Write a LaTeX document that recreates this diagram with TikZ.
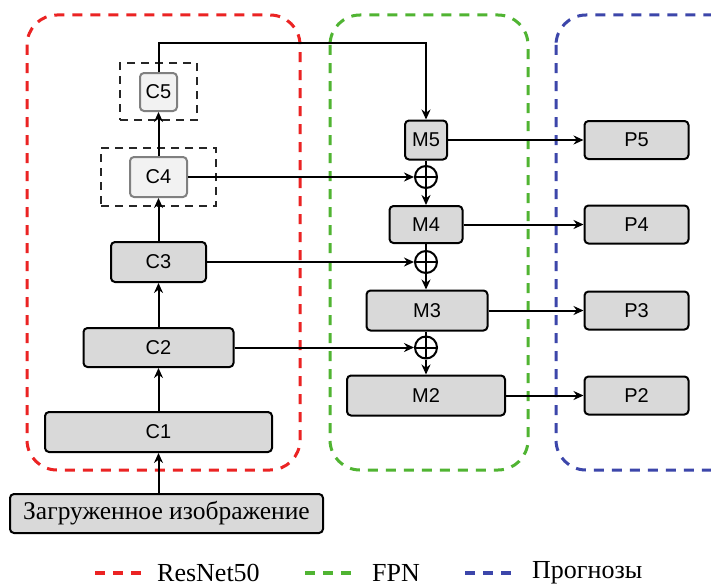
\documentclass[tikz,border=0pt]{standalone}
\usepackage{fontspec}
\setmainfont{Liberation Serif}
\newfontfamily\lsans{Liberation Sans}
\usetikzlibrary{arrows.meta,calc}
\definecolor{gfill}{RGB}{217,217,217}
\definecolor{lfill}{RGB}{242,242,242}
\definecolor{lborder}{RGB}{128,128,128}
\definecolor{myred}{RGB}{235,35,35}
\definecolor{mygreen}{RGB}{80,180,50}
\definecolor{myblue}{RGB}{60,70,170}
\begin{document}
\begin{tikzpicture}[x=1pt,y=-1pt,
 box/.style={draw=black, line width=2pt, fill=gfill, rounded corners=4pt, inner sep=0pt, font=\lsans\fontsize{20}{20}\selectfont},
 lbox/.style={box, draw=lborder, fill=lfill},
 cframe/.style={draw=black!85, line width=2.2pt, dash pattern=on 8pt off 6pt, inner sep=0pt},
 grp/.style={line width=3pt, dash pattern=on 10pt off 8pt, rounded corners=30pt},
 arr/.style={line width=2pt, -{Stealth[length=10pt,width=9pt]}},
 ln/.style={line width=2pt},
 legline/.style={line width=3.2pt, dash pattern=on 10pt off 8pt},
 legtext/.style={anchor=west, inner sep=0pt, font=\fontsize{26}{26}\selectfont},
 plus/.style={circle, draw=black, line width=2pt, minimum size=22pt, inner sep=0pt,
   path picture={\draw[line width=2pt] (path picture bounding box.north) -- (path picture bounding box.south)
     (path picture bounding box.west) -- (path picture bounding box.east);}}
]
\useasboundingbox (0,0) rectangle (711,586);
\fill[white] (0,0) rectangle (711,586);
% groups
\draw[grp, myred] (27,15) rectangle (300,470);
\draw[grp, mygreen] (330,15) rectangle (528,470);
\draw[grp, myblue] (556,15) rectangle (745,470);
% frames
\node[cframe, minimum width=115, minimum height=58] (f4) at (158.5,177) {};
\node[cframe, minimum width=77, minimum height=57] (f5) at (158.5,91.5) {};
% backbone
\node[box, minimum width=227, minimum height=40] (c1) at (158.5,432) {C1};
\node[box, minimum width=150, minimum height=39] (c2) at (158.5,347.5) {C2};
\node[box, minimum width=95, minimum height=40] (c3) at (158.5,262) {C3};
\node[lbox, minimum width=57, minimum height=40] (c4) at (158.5,177) {C4};
\node[lbox, minimum width=37, minimum height=38] (c5) at (158.5,92) {C5};
\node[box, font=\fontsize{25.5}{25.5}\selectfont, minimum width=313, minimum height=39] (in) at (166.5,513.5) {Загруженное изображение};
% FPN
\node[box, minimum width=42, minimum height=39] (m5) at (426,140) {M5};
\node[plus] (s1) at (426,177) {};
\node[box, minimum width=73, minimum height=37] (m4) at (426,224.5) {M4};
\node[plus] (s2) at (426,262) {};
\node[box, minimum width=121, minimum height=40] (m3) at (427,310.5) {M3};
\node[plus] (s3) at (426,347.5) {};
\node[box, minimum width=158, minimum height=40] (m2) at (426,395.5) {M2};
% predictions
\node[box, minimum width=104, minimum height=38] (p5) at (636.5,140) {P5};
\node[box, minimum width=104, minimum height=38] (p4) at (636.5,224.5) {P4};
\node[box, minimum width=104, minimum height=38] (p3) at (636.5,310.5) {P3};
\node[box, minimum width=104, minimum height=38] (p2) at (636.5,395.5) {P2};
% connectors
\coordinate (topy) at (0,43);
\draw[arr] (c5.north) -- (c5.north |- topy) -| (m5.north);
\draw[arr] (c4.north) -- (c5.south);
\draw[arr] (c3.north) -- (c4.south);
\draw[arr] (c2.north) -- (c3.south);
\draw[arr] (c1.north) -- (c2.south);
\draw[arr] (c1.south |- in.north) -- (c1.south);
\draw[arr] (c4.east) -- (s1.west);
\draw[arr] (c3.east) -- (s2.west);
\draw[arr] (c2.east) -- (s3.west);
\draw[ln] (m5.south) -- (s1.north);
\draw[arr] (s1.south) -- (m4.north);
\draw[ln] (m4.south) -- (s2.north);
\draw[arr] (s2.south) -- (m3.north -| s2);
\draw[ln] (m3.south -| s2) -- (s3.north);
\draw[arr] (s3.south) -- (m2.north);
\draw[arr] (m5.east) -- (p5.west);
\draw[arr] (m4.east) -- (p4.west);
\draw[arr] (m3.east) -- (p3.west);
\draw[arr] (m2.east) -- (p2.west);
% legend
\draw[legline, myred] (95,573) -- (141,573);
\node[legtext] (l1) at (157,573) {ResNet50};
\draw[legline, mygreen] (305,573) -- (351,573);
\node[legtext] (l2) at (372,573) {FPN};
\draw[legline, myblue] (465,573) -- (511,573);
\node[legtext] (l3) at (532,573) {Прогнозы};
\end{tikzpicture}
\end{document}
